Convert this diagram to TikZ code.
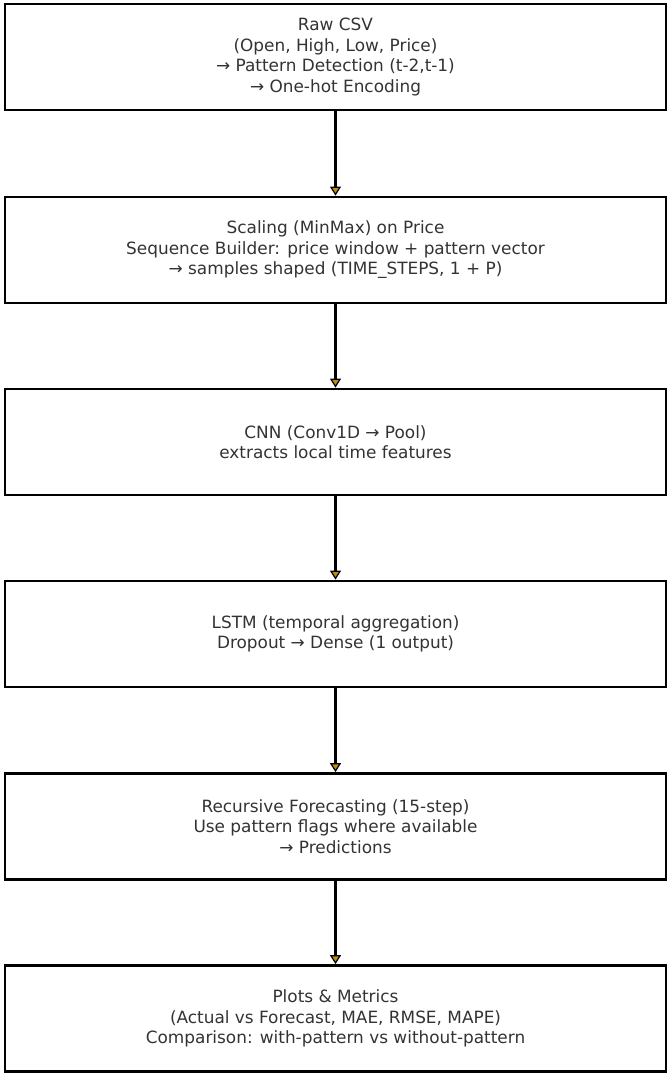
\documentclass[tikz,border=0pt]{standalone}
\usepackage{fontspec}
\setmainfont{DejaVu Sans}
\usetikzlibrary{arrows.meta}
\definecolor{txt}{RGB}{51,51,51}
\definecolor{arrowgold}{RGB}{190,140,20}
\begin{document}
\begin{tikzpicture}[x=1pt,y=-1pt,
  stepbox/.style={draw=black, line width=2.8pt, minimum width=661pt, minimum height=106pt,
    inner sep=0pt, align=center, text=txt, font=\fontsize{16.9}{20.5}\selectfont},
  flow/.style={draw=black, line width=2.2pt,
    -{Triangle[length=9pt,width=11pt,fill=arrowgold,line width=1.2pt]}}]
\useasboundingbox (0,0) rectangle (670,1075);
\node[stepbox] (b1) at (335.5,57) {Raw CSV\\(Open, High, Low, Price)\\→ Pattern Detection (t-2,t-1)\\→ One-hot Encoding};
\node[stepbox] (b2) at (335.5,250) {Scaling (MinMax) on Price\\Sequence Builder: price window + pattern vector\\→ samples shaped (TIME\_STEPS, 1 + P)};
\node[stepbox] (b3) at (335.5,442) {CNN (Conv1D → Pool)\\extracts local time features};
\node[stepbox] (b4) at (335.5,634) {LSTM (temporal aggregation)\\Dropout → Dense (1 output)};
\node[stepbox] (b5) at (335.5,826.5) {Recursive Forecasting (15-step)\\Use pattern flags where available\\→ Predictions};
\node[stepbox] (b6) at (335.5,1018.5) {Plots \& Metrics\\(Actual vs Forecast, MAE, RMSE, MAPE)\\Comparison: with-pattern vs without-pattern};
\draw[flow] (b1.south) -- (b2.north);
\draw[flow] (b2.south) -- (b3.north);
\draw[flow] (b3.south) -- (b4.north);
\draw[flow] (b4.south) -- (b5.north);
\draw[flow] (b5.south) -- (b6.north);
\end{tikzpicture}
\end{document}
